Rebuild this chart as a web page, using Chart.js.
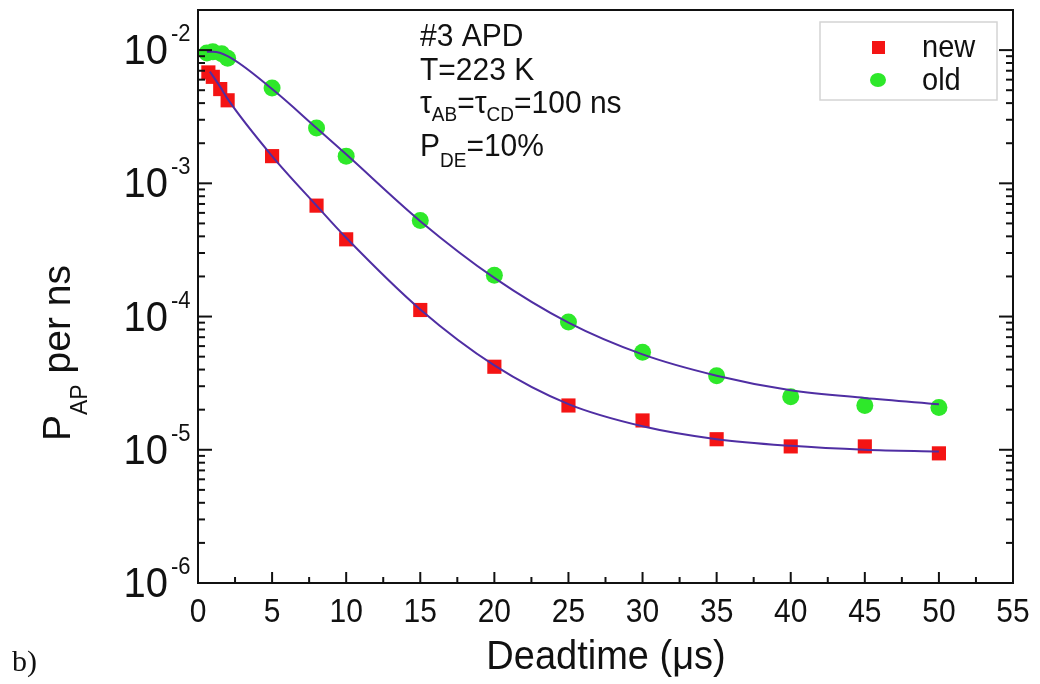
<!DOCTYPE html>
<html>
<head>
<meta charset="utf-8">
<script src="https://cdn.jsdelivr.net/npm/chart.js@4.4.0/dist/chart.umd.min.js"></script>
<style>
html, body { margin: 0; padding: 0; background: #fff; }
#wrap { width: 1040px; height: 684px; }
</style>
</head>
<body>
<div id="wrap"><canvas id="Chart1" width="1040" height="684"></canvas></div>
<script>
// measured points
const newX = [0.7, 1, 1.5, 2, 5, 8, 10, 15, 20, 25, 30, 35, 40, 45, 50];
const newY = [6.8e-3, 6.3e-3, 5.1e-3, 4.2e-3, 1.6e-3, 6.8e-4, 3.8e-4, 1.12e-4, 4.2e-5, 2.15e-5, 1.66e-5, 1.2e-5, 1.06e-5, 1.06e-5, 9.4e-6];
const oldX = [0.6, 1, 1.6, 2, 5, 8, 10, 15, 20, 25, 30, 35, 40, 45, 50];
const oldY = [9.5e-3, 9.7e-3, 9.4e-3, 8.7e-3, 5.2e-3, 2.6e-3, 1.6e-3, 5.25e-4, 2.04e-4, 9.1e-5, 5.4e-5, 3.6e-5, 2.5e-5, 2.15e-5, 2.08e-5];

// fit curves
const fitNewX = [0.8, 1.5, 2, 5, 8, 10, 15, 20, 25, 30, 35, 40, 45, 50];
const fitNewY = [6.9e-3, 5.3e-3, 4.3e-3, 1.6e-3, 6.8e-4, 3.9e-4, 1.13e-4, 4.3e-5, 2.2e-5, 1.5e-5, 1.2e-5, 1.07e-5, 1.0e-5, 9.7e-6];
const fitOldX = [0.6, 1, 2, 5, 8, 10, 15, 20, 25, 30, 35, 40, 45, 50];
const fitOldY = [9.7e-3, 9.7e-3, 9.0e-3, 5.1e-3, 2.6e-3, 1.65e-3, 5.2e-4, 1.95e-4, 9.0e-5, 5.2e-5, 3.6e-5, 2.8e-5, 2.45e-5, 2.2e-5];

const xTicks = [0, 5, 10, 15, 20, 25, 30, 35, 40, 45, 50, 55];
const yExp = [-6, -5, -4, -3, -2];

const toPts = (xs, ys) => xs.map((v, i) => ({ x: v, y: ys[i] }));

const FONT = "'Liberation Sans', Arial, sans-serif";
const lineColor = '#4f2ea3';
const red = '#f41414';
const green = '#2ee82a';

function seg(ctx, x1, y1, x2, y2) {
  ctx.beginPath(); ctx.moveTo(x1, y1); ctx.lineTo(x2, y2); ctx.stroke();
}

// text slightly stretched vertically, like the original
function txt(ctx, s, x, y, size, align, sy) {
  ctx.save();
  ctx.translate(x, y);
  ctx.scale(1, sy || 1);
  ctx.font = size + 'px ' + FONT;
  ctx.textAlign = align || 'left';
  ctx.fillText(s, 0, 0);
  const w = ctx.measureText(s).width;
  ctx.restore();
  return w;
}

const frame = {
  id: 'frame',
  afterDraw(chart) {
    const ctx = chart.ctx;
    const a = chart.chartArea;
    const x = chart.scales.x, y = chart.scales.y;
    ctx.save();
    ctx.strokeStyle = '#111';
    ctx.lineWidth = 2;
    ctx.strokeRect(a.left, a.top, a.right - a.left, a.bottom - a.top);

    // y ticks, left and right
    yExp.forEach(e => {
      for (let m = 1; m < 10; m++) {
        const v = m * Math.pow(10, e);
        if (v > y.max) break;
        const py = y.getPixelForValue(v);
        const len = m === 1 ? 14 : 7;
        seg(ctx, a.left, py, a.left + len, py);
        seg(ctx, a.right, py, a.right - len, py);
      }
    });
    // x ticks
    for (let v = 0; v <= 55; v += 2.5) {
      const px = x.getPixelForValue(v);
      const len = v % 5 === 0 ? 11 : 6;
      seg(ctx, px, a.bottom, px, a.bottom - len);
    }

    ctx.fillStyle = '#111';
    ctx.textBaseline = 'alphabetic';
    // x tick labels
    xTicks.forEach(v => txt(ctx, String(v), x.getPixelForValue(v), 622, 30, 'center', 1.12));

    // y tick labels 10^n
    yExp.forEach(e => {
      const py = y.getPixelForValue(Math.pow(10, e));
      txt(ctx, '10', 168, py + 14, 40, 'right', 1.05);
      txt(ctx, String(e), 171, py - 9, 22, 'left', 1.05);
    });

    // x title
    txt(ctx, 'Deadtime (\u03bcs)', 606, 669, 38, 'center', 1.05);

    // y title
    ctx.save();
    ctx.translate(70, 441);
    ctx.rotate(-Math.PI / 2);
    let w = txt(ctx, 'P', 0, 0, 39, 'left');
    w += txt(ctx, 'AP', w, 17, 23, 'left');
    txt(ctx, ' per ns', w, 0, 39, 'left');
    ctx.restore();

    // annotation
    ctx.font = '29px ' + FONT;
    let cx = 420;
    txt(ctx, '#3 APD', 420, 46, 30, 'left', 1.05);
    txt(ctx, 'T=223 K', 420, 80, 30, 'left', 1.05);
    const parts = [['\u03c4', 30, 113], ['AB', 19, 121], ['=\u03c4', 30, 113], ['CD', 19, 121], ['=100 ns', 30, 113]];
    parts.forEach(p => { cx += txt(ctx, p[0], cx, p[2], p[1], 'left', 1.05); });
    cx = 420;
    const parts2 = [['P', 30, 156], ['DE', 19, 167], ['=10%', 30, 156]];
    parts2.forEach(p => { cx += txt(ctx, p[0], cx, p[2], p[1], 'left', 1.05); });

    // legend
    ctx.strokeStyle = '#d4d4d4';
    ctx.lineWidth = 1.5;
    ctx.strokeRect(820, 22, 177, 78);
    ctx.fillStyle = red;
    ctx.fillRect(872, 41, 13, 13);
    ctx.fillStyle = green;
    ctx.beginPath(); ctx.ellipse(878, 80, 8, 7, 0, 0, Math.PI * 2); ctx.fill();
    ctx.fillStyle = '#111';
    txt(ctx, 'new', 922, 57, 29, 'left', 1.05);
    txt(ctx, 'old', 922, 90, 29, 'left', 1.05);

    // panel label
    ctx.font = '30px "Liberation Serif", "DejaVu Serif", serif';
    ctx.textAlign = 'left';
    ctx.fillText('b)', 12, 671);
    ctx.restore();
  }
};

const config = {
  type: 'scatter',
  data: {
    datasets: [
      { label: 'fit new', data: toPts(fitNewX, fitNewY), showLine: true, borderColor: lineColor, borderWidth: 2,
        pointRadius: 0, cubicInterpolationMode: 'monotone', fill: false, order: 0 },
      { label: 'fit old', data: toPts(fitOldX, fitOldY), showLine: true, borderColor: lineColor, borderWidth: 2,
        pointRadius: 0, cubicInterpolationMode: 'monotone', fill: false, order: 0 },
      { label: 'new', data: toPts(newX, newY), pointStyle: 'rect', pointRadius: 10,
        backgroundColor: red, borderColor: red, borderWidth: 0, order: 1 },
      { label: 'old', data: toPts(oldX, oldY), pointStyle: 'circle', pointRadius: 8.5,
        backgroundColor: green, borderColor: green, borderWidth: 0, order: 1 }
    ]
  },
  options: {
    responsive: false,
    animation: false,
    layout: { padding: { left: 198, top: 9, right: 27, bottom: 101 } },
    plugins: { legend: { display: false }, tooltip: { enabled: false } },
    scales: {
      x: { type: 'linear', min: 0, max: 55, display: false },
      y: { type: 'logarithmic', min: 1e-6, max: 0.02, display: false }
    }
  },
  plugins: [frame]
};

const myChart = new Chart(document.getElementById('Chart1'), config);
</script>
</body>
</html>
